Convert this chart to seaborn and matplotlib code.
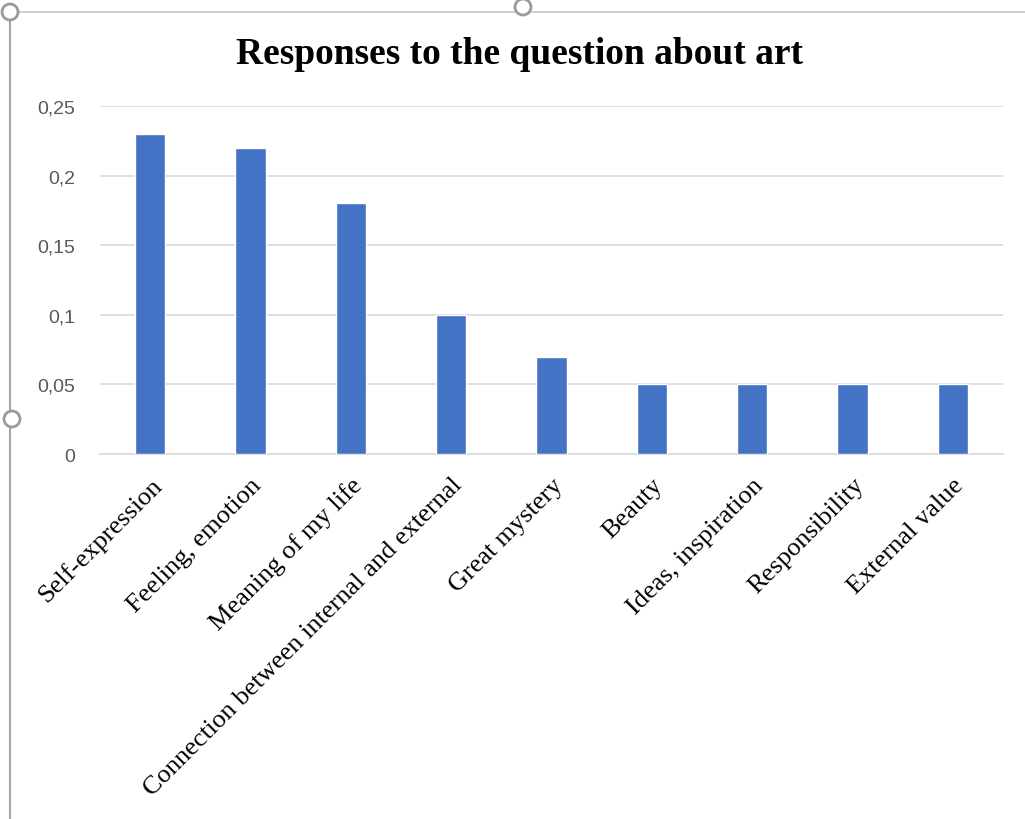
import matplotlib
matplotlib.use("Agg")
import matplotlib.pyplot as plt
from matplotlib.patches import Circle
from matplotlib.lines import Line2D
import seaborn as sns
import pandas as pd

categories = ["Self-expression", "Feeling, emotion", "Meaning of my life",
              "Connection between internal and external", "Great mystery",
              "Beauty", "Ideas, inspiration", "Responsibility", "External value"]
values = [0.23, 0.22, 0.18, 0.10, 0.07, 0.05, 0.05, 0.05, 0.05]
yticks = [0, 0.05, 0.10, 0.15, 0.20, 0.25]
ytick_labels = ["0", "0,05", "0,1", "0,15", "0,2", "0,25"]
title = "Responses to the question about art"

sns.set_theme(style="white")
df = pd.DataFrame({"cat": categories, "val": values})

W, H = 1025, 820
fig = plt.figure(figsize=(W / 100, H / 100), dpi=100)
ax = fig.add_axes([100 / W, 1 - 455 / H, 903 / W, (455 - 107) / H])

sns.barplot(data=df, x="cat", y="val", color="#4472C4", width=0.3,
            saturation=1, ax=ax, zorder=3)

ax.set_ylim(0, 0.25)
ax.set_xlim(-0.5, len(categories) - 0.5)
ax.set_yticks(yticks)
ax.set_yticklabels(ytick_labels, fontsize=14, color="#595959",
                   family=["Liberation Sans", "DejaVu Sans"])
ax.set_xticks(range(len(categories)))
ax.set_xticklabels(categories, rotation=45, ha="right", va="top",
                   rotation_mode="anchor", fontsize=19, color="#000000",
                   family=["Liberation Serif", "DejaVu Serif"])
ax.tick_params(axis="both", length=0)
ax.tick_params(axis="y", pad=18)
ax.tick_params(axis="x", pad=14)
ax.set_xlabel("")
ax.set_ylabel("")
ax.yaxis.grid(True, color="#D9D9D9", linewidth=1.2, zorder=0)
ax.xaxis.grid(False)
for s in ["top", "right", "left"]:
    ax.spines[s].set_visible(False)
ax.spines["bottom"].set_color("#D9D9D9")
ax.spines["bottom"].set_linewidth(1.2)

fig.text(520 / W, 1 - 55 / H, title, ha="center", va="center",
         fontsize=27, fontweight="bold", color="#000000",
         family=["Liberation Serif", "DejaVu Serif"])

# chart frame (selection border) and handles
border = "#A6A6A6"
fig.add_artist(Line2D([10 / W, 1.0], [1 - 13 / H, 1 - 13 / H],
                      transform=fig.transFigure, color="#C8C8C8", lw=1.2))
fig.add_artist(Line2D([10 / W, 10 / W], [0, 1 - 13 / H],
                      transform=fig.transFigure, color=border, lw=1.5))
for (cx, cy) in [(523, 8), (12, 420), (10, 13)]:
    fig.add_artist(Circle((cx, H - cy), 8, transform=None,
                          facecolor="white", edgecolor="#9A9A9A", lw=2,
                          zorder=10))

fig.savefig("out.png", dpi=100)
